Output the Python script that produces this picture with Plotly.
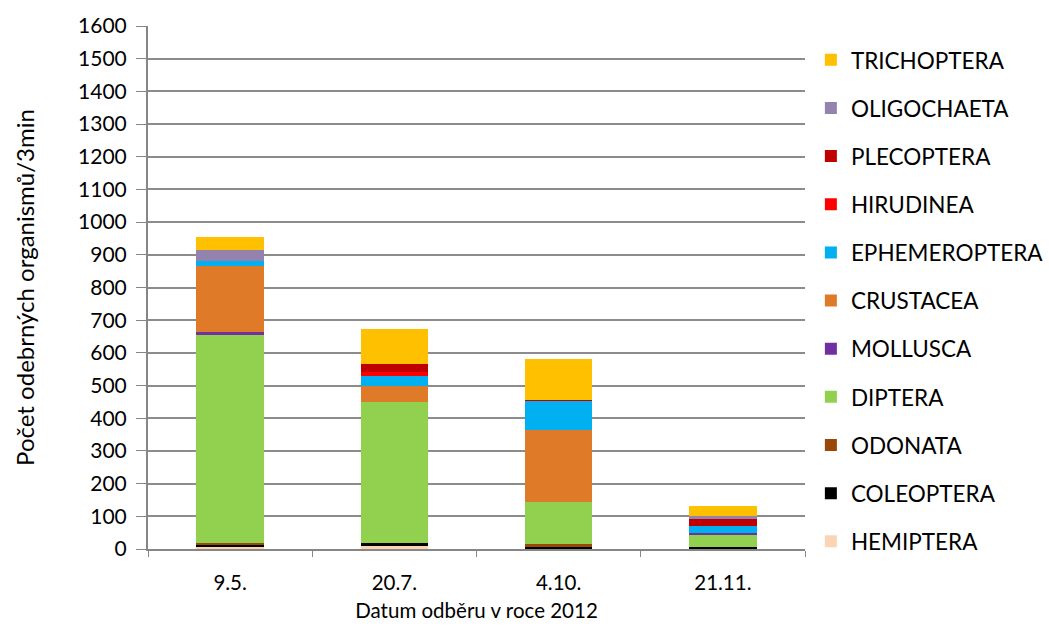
import plotly.graph_objects as go

# Sampling dates
dates = ["9.5.", "20.7.", "4.10.", "21.11."]

# Counts of organisms per 3 min sample, by group (stack order bottom -> top)
hemiptera = [8, 9, 0, 0]
coleoptera = [3, 8, 5, 5]
odonata = [8, 0, 10, 0]
diptera = [637, 434, 129, 37]
mollusca = [9, 0, 0, 8]
crustacea = [200, 48, 221, 0]
ephemeroptera = [15, 31, 90, 20]
hirudinea = [0, 13, 0, 0]
plecoptera = [0, 24, 2, 24]
oligochaeta = [34, 0, 0, 6]
trichoptera = [39, 106, 125, 33]

series = [
    ("HEMIPTERA", hemiptera, "#FBD4B4"),
    ("COLEOPTERA", coleoptera, "#000000"),
    ("ODONATA", odonata, "#984807"),
    ("DIPTERA", diptera, "#92D050"),
    ("MOLLUSCA", mollusca, "#7030A0"),
    ("CRUSTACEA", crustacea, "#DF7A28"),
    ("EPHEMEROPTERA", ephemeroptera, "#00B0F0"),
    ("HIRUDINEA", hirudinea, "#FF0000"),
    ("PLECOPTERA", plecoptera, "#C00000"),
    ("OLIGOCHAETA", oligochaeta, "#9483AE"),
    ("TRICHOPTERA", trichoptera, "#FFC000"),
]

FONT = "Lato"

fig = go.Figure()
n = len(series)
for i, (name, vals, color) in enumerate(series):
    fig.add_trace(go.Bar(
        x=dates, y=vals, name=name, legendgroup=name,
        legendrank=100 + (n - i),  # top of the stack listed first
        marker=dict(color=color, line=dict(width=0)),
    ))

fig.update_layout(
    barmode="stack",
    bargap=0.59,
    width=1049, height=626,
    margin=dict(l=148, r=244, t=26, b=77),
    paper_bgcolor="white", plot_bgcolor="white",
    font=dict(family=FONT, size=20, color="#000000"),
    legend=dict(
        traceorder="grouped",
        x=0.773, xanchor="left", xref="container",
        y=0.9382, yanchor="top", yref="container",
        tracegroupgap=15.9,
        maxheight=620,
        font=dict(family=FONT, size=22.5, color="#000000"),
        bgcolor="rgba(0,0,0,0)",
    ),
    xaxis=dict(
        title=dict(text="Datum odběru v roce 2012", font=dict(size=20.5), standoff=11),
        showline=True, linecolor="#868686", linewidth=2,
        ticks="outside", tickson="boundaries", ticklen=6, tickcolor="#868686",
        ticklabelstandoff=14,
        showgrid=False, automargin=False,
        tickfont=dict(size=20.5),
    ),
    yaxis=dict(
        title=dict(text="Počet odebrných organismů/3min", font=dict(size=24), standoff=37),
        range=[0, 1600], dtick=100,
        showline=True, linecolor="#868686", linewidth=2,
        ticks="outside", ticklen=10, tickcolor="#868686",
        ticklabelstandoff=5,
        showgrid=True, gridcolor="#8c8c8c", gridwidth=1.5,
        zeroline=False, automargin=False,
        tickfont=dict(size=21),
    ),
)

fig.write_html("out.html")
